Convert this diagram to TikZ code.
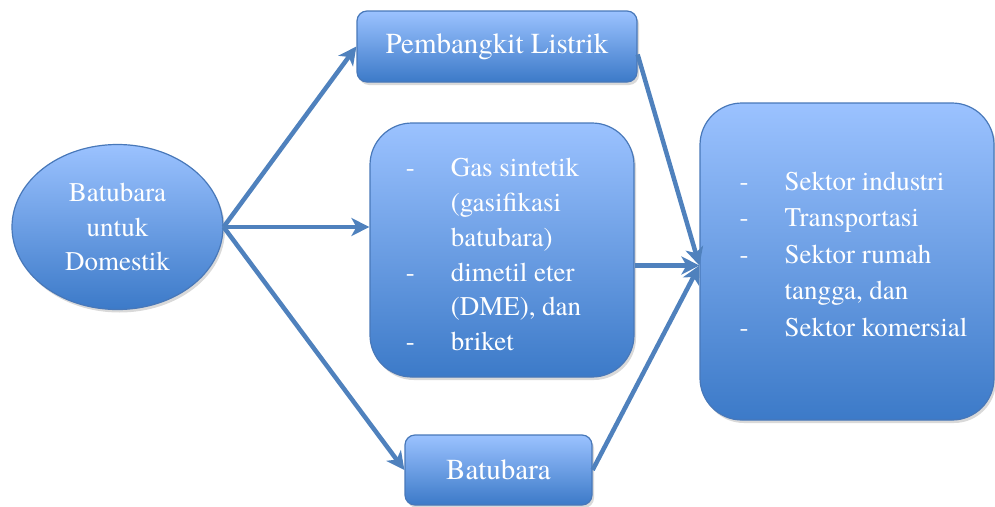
\documentclass[tikz,border=0pt]{standalone}
\usepackage{fontspec}
\setmainfont{texgyretermes}[Extension=.otf, UprightFont=*-regular, BoldFont=*-bold]
\usetikzlibrary{positioning,shapes.geometric,shadows,arrows.meta}

\definecolor{boxtop}{RGB}{155,194,255}
\definecolor{boxbot}{RGB}{60,122,200}
\definecolor{boxline}{RGB}{72,120,185}
\definecolor{arrowblue}{RGB}{79,129,189}

\begin{document}
\begin{tikzpicture}[x=1pt, y=-1pt,
    every node/.style={draw=boxline, line width=1.2pt, top color=boxtop, bottom color=boxbot,
      text=white, inner sep=0pt, font=\fontsize{29}{34.8}\selectfont,
      drop shadow={opacity=0.3, shadow xshift=2pt, shadow yshift=-3pt}},
    listtext/.style={font=\fontsize{27}{34.8}\selectfont},
    smallbox/.style={rounded corners=10pt},
    bigbox/.style={rounded corners=42pt},
    flow/.style={draw=arrowblue, line width=4.5pt, -{Stealth[length=18pt, width=18pt, inset=5pt]}}]

    \useasboundingbox (0,0) rectangle (995,506);

    % source
    \node[ellipse, listtext, minimum width=211pt, minimum height=165pt, align=center] (src) at (117.5,227)
        {Batubara\\untuk\\Domestik};

    % products
    \node[smallbox, minimum width=280pt, minimum height=71pt] (pl) at (497,46.5) {Pembangkit Listrik};
    \node[bigbox, listtext, minimum width=264pt, minimum height=254pt] (gas) at (502,250)
        {\begin{tabular}{@{}p{45pt}@{}l@{\hspace{17pt}}}
           - & \rule{0pt}{38pt}Gas sintetik\\
             & (gasifikasi\\
             & batubara)\\
           - & dimetil eter\\
             & (DME), dan\\
           - & briket
         \end{tabular}};
    \node[smallbox, minimum width=187pt, minimum height=70pt] (bb) at (498.5,470) {Batubara};

    % sectors
    \node[bigbox, font=\fontsize{27}{36.5}\selectfont, minimum width=294pt, minimum height=317pt] (sek) at (847,261.5)
        {\begin{tabular}{@{\hspace{13pt}}p{45pt}@{}l@{}}
           - & Sektor industri\\
           - & Transportasi\\
           - & Sektor rumah\\
             & tangga, dan\\
           - & Sektor komersial\\[11pt]
         \end{tabular}};

    \coordinate (hub) at ([yshift=-4pt]sek.west);

    % connectors
    \draw[flow] (src.east) -- (pl.west);
    \draw[flow] (src.east) -- (gas.west |- src.east);
    \draw[flow] (src.east) -- (bb.west);
    \draw[flow] ([yshift=-8pt]pl.east) -- (hub);
    \draw[flow] (gas.east |- hub) -- (hub);
    \draw[flow] (bb.east) -- (hub);

\end{tikzpicture}
\end{document}
